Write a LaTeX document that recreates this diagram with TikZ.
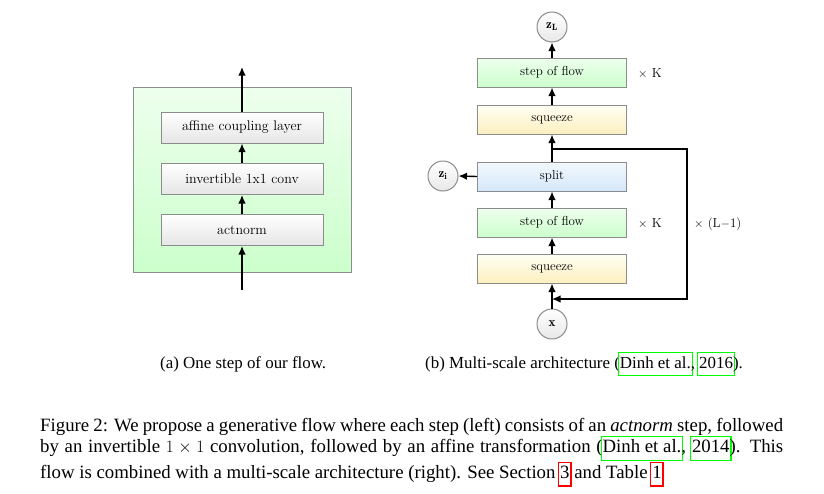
\documentclass[tikz,border=0pt]{standalone}
\usepackage{fontspec}
\usetikzlibrary{arrows.meta}
\newfontfamily\capfont{Liberation Serif}
\newcommand\lnk[2]{\sbox0{\strut#2}\makebox[0pt][l]{\hspace{-2pt}\color{#1}\setlength\fboxrule{1.2pt}\setlength\fboxsep{0.8pt}\fbox{\phantom{\usebox0}}}\usebox0}
\definecolor{bordergray}{gray}{0.55}
\definecolor{sqyellow}{RGB}{252,238,190}
\definecolor{splitblue}{RGB}{212,232,250}
\tikzset{
  arr/.style={line width=1.4pt,-{Latex[length=8.5pt,width=7.5pt]}},
  lbox/.style={draw=bordergray,line width=1pt,top color=white,bottom color=gray!20,
     minimum width=162pt,minimum height=31pt,inner sep=0pt,font=\fontsize{14}{16}\selectfont},
  rbox/.style={draw=bordergray,line width=1pt,minimum width=149pt,minimum height=29pt,
     inner sep=0pt,font=\fontsize{13}{15}\selectfont},
  flowbox/.style={rbox,top color=green!7,bottom color=green!20},
  sqbox/.style={rbox,top color=yellow!4,bottom color=sqyellow},
  splitbox/.style={rbox,top color=splitblue!30,bottom color=splitblue},
  outerbox/.style={draw=bordergray,line width=1pt,top color=green!7,bottom color=green!20,
     minimum width=218pt,minimum height=185pt,inner sep=0pt},
  var/.style={circle,draw=bordergray,line width=1pt,top color=white,bottom color=gray!18,
     minimum size=30pt,inner sep=0pt,font=\fontsize{13}{15}\selectfont},
  mult/.style={anchor=west,inner sep=0pt,font=\fontsize{13}{15}\selectfont},
  subcap/.style={anchor=west,inner sep=0pt,font=\capfont\fontsize{16.9}{20.7}\selectfont},
}
\begin{document}
\begin{tikzpicture}[x=1pt,y=-1pt]
\useasboundingbox[fill=white] (0,0) rectangle (824,493);
% ---- left panel ----
\node[outerbox] (outer) at (242,179.5) {};
\node[lbox] (acl) at (242,127.5) {affine coupling layer};
\node[lbox] (inv) at (242,179) {invertible 1x1 conv};
\node[lbox] (act) at (242,230) {actnorm};
\coordinate (lin) at (242,290);
\coordinate (lout) at (242,67);
\draw[arr] (lin) -- (act.south);
\draw[arr] (act.north) -- (inv.south);
\draw[arr] (inv.north) -- (acl.south);
\draw[arr] (acl.north) -- (lout);
% ---- right panel ----
\node[var] (zL) at (552,27) {$\mathbf{z}_{\mathbf{L}}$};
\node[flowbox] (sf2) at (552,72.5) {step of flow};
\node[sqbox] (sq2) at (552,119.5) {squeeze};
\node[splitbox] (split) at (552,176.5) {split};
\node[flowbox] (sf1) at (552,222.5) {step of flow};
\node[sqbox] (sq1) at (552,268.5) {squeeze};
\node[var] (x) at (552,324) {$\mathbf{x}$};
\node[var] (zi) at (443,176) {$\mathbf{z}_{\mathbf{i}}$};
\coordinate (j1) at (552,149);
\coordinate (c1) at (687,149);
\coordinate (c2) at (687,299);
\coordinate (j2) at (552,299);
\draw[arr] (x.north) -- (sq1.south);
\draw[arr] (sq1.north) -- (sf1.south);
\draw[arr] (sf1.north) -- (split.south);
\draw[arr] (split.north) -- (sq2.south);
\draw[arr] (sq2.north) -- (sf2.south);
\draw[arr] (sf2.north) -- (zL.south);
\draw[arr] (split.west) -- (zi.east);
\draw[arr] (j1) -- (c1) -- (c2) -- (j2);
\node[mult] (k2) at (638,74) {$\times$ K};
\node[mult] (k1) at (638,224) {$\times$ K};
\node[mult] (l1) at (694,224) {$\times$ (L$-$1)};
% ---- captions ----
\node[subcap] (capa) at (160,364) {(a) One step of our flow.};
\node[subcap] (capb) at (425,364) {(b) Multi-scale architecture (\lnk{green}{Dinh et al.}, \lnk{green}{2016}).};
\node[anchor=north west,inner sep=0pt,text width=743pt,align=justify,
  font=\capfont\fontsize{18.8}{20.7}\selectfont] (cap) at (40,418.5)
 {Figure 2: We propose a generative flow where each step (left) consists of an \textit{actnorm} step, followed\linebreak
 by an invertible $1\times1$ convolution, followed by an affine transformation (\lnk{green}{Dinh et al.}, \lnk{green}{2014}). This\linebreak
 flow is combined with a multi-scale architecture (right). See Section~\lnk{red}{3} and Table~\lnk{red}{1}};
\end{tikzpicture}
\end{document}
